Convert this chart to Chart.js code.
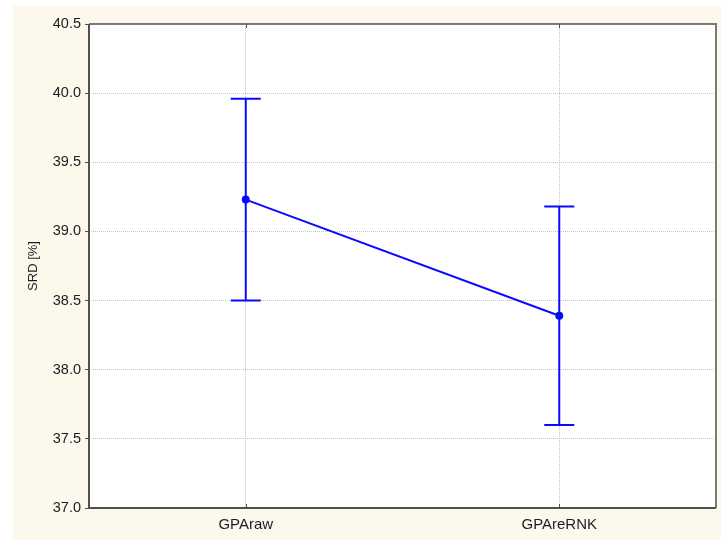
<!DOCTYPE html>
<html>
<head>
<meta charset="utf-8">
<script src="https://cdn.jsdelivr.net/npm/chart.js@4/dist/chart.umd.min.js"></script>
<style>
  html, body { margin: 0; padding: 0; background: #ffffff; }
  #wrap { width: 721px; height: 540px; position: relative; }
</style>
</head>
<body>
<div id="wrap"><canvas id="c" width="721" height="540"></canvas></div>
<script>
// Group labels and mean SRD with confidence limits
const categories = ['GPAraw', 'GPAreRNK'];
const means = [39.23, 38.39];
const lowerLimits = [38.50, 37.60];
const upperLimits = [39.96, 39.18];
const yTicks = [37.0, 37.5, 38.0, 38.5, 39.0, 39.5, 40.0, 40.5];

const BLUE = '#0a0aff';
const FONT = 'Liberation Sans, Arial, sans-serif';

// Cream page background and frame around the plotting area
const framePlugin = {
  id: 'frame',
  beforeDraw(chart) {
    const ctx = chart.ctx;
    ctx.save();
    ctx.fillStyle = '#fdf8ec';
    ctx.fillRect(13, 6, chart.width - 13, chart.height - 6);
    const a = chart.chartArea;
    ctx.fillStyle = '#ffffff';
    ctx.fillRect(a.left, a.top, a.right - a.left, a.bottom - a.top);
    ctx.restore();
  },
  afterDatasetsDraw(chart) {
    const ctx = chart.ctx;
    const a = chart.chartArea;
    const x = chart.scales.x;
    ctx.save();
    // top and right edges
    ctx.strokeStyle = '#7a7a7a';
    ctx.lineWidth = 2;
    ctx.beginPath();
    ctx.moveTo(a.left, a.top);
    ctx.lineTo(a.right, a.top);
    ctx.lineTo(a.right, a.bottom);
    ctx.stroke();
    // left and bottom axes
    ctx.strokeStyle = '#505050';
    ctx.beginPath();
    ctx.moveTo(a.left, a.top);
    ctx.lineTo(a.left, a.bottom);
    ctx.lineTo(a.right, a.bottom);
    ctx.stroke();
    // inner category ticks on bottom and top
    ctx.lineWidth = 1;
    ctx.strokeStyle = '#505050';
    categories.forEach((c, i) => {
      const px = Math.round(x.getPixelForValue(i)) + 0.5;
      ctx.beginPath();
      ctx.moveTo(px, a.bottom);
      ctx.lineTo(px, a.bottom - 4);
      ctx.moveTo(px, a.top);
      ctx.lineTo(px, a.top + 4);
      ctx.stroke();
    });
    ctx.restore();
  }
};

// Whiskers for the confidence limits
const errorBarPlugin = {
  id: 'errorBars',
  afterDatasetsDraw(chart) {
    const ctx = chart.ctx;
    const x = chart.scales.x;
    const y = chart.scales.y;
    ctx.save();
    ctx.strokeStyle = BLUE;
    ctx.lineWidth = 2;
    const half = 15;
    categories.forEach((c, i) => {
      const px = x.getPixelForValue(i);
      const yl = y.getPixelForValue(lowerLimits[i]);
      const yu = y.getPixelForValue(upperLimits[i]);
      ctx.beginPath();
      ctx.moveTo(px, yl);
      ctx.lineTo(px, yu);
      ctx.moveTo(px - half, yu);
      ctx.lineTo(px + half, yu);
      ctx.moveTo(px - half, yl);
      ctx.lineTo(px + half, yl);
      ctx.stroke();
    });
    ctx.restore();
  }
};

new Chart(document.getElementById('c'), {
  type: 'line',
  data: {
    labels: categories,
    datasets: [{
      data: means,
      borderColor: BLUE,
      backgroundColor: BLUE,
      borderWidth: 2,
      pointRadius: 3,
      pointHoverRadius: 3,
      tension: 0,
      fill: false
    }]
  },
  options: {
    responsive: false,
    animation: false,
    devicePixelRatio: 1,
    layout: { padding: { top: 24, right: 4, left: 26, bottom: 0 } },
    plugins: {
      legend: { display: false },
      tooltip: { enabled: false }
    },
    scales: {
      x: {
        type: 'category',
        offset: true,
        border: { display: false, dash: [1, 1] },
        grid: {
          offset: false,
          color: '#c4c4c4',
          lineWidth: 1,
          drawTicks: false
        },
        ticks: {
          color: '#1c1c24',
          padding: 8,
          font: { family: FONT, size: 15 }
        },
        afterFit(scale) { scale.height = 32; }
      },
      y: {
        min: 37.0,
        max: 40.5,
        border: { display: false, dash: [1, 1] },
        afterBuildTicks(scale) {
          scale.ticks = yTicks.map(v => ({ value: v }));
        },
        grid: {
          color: '#c4c4c4',
          lineWidth: 1,
          drawTicks: true,
          tickLength: 4,
          tickColor: '#505050',
          tickBorderDash: []
        },
        ticks: {
          color: '#1c1c24',
          padding: 4,
          font: { family: FONT, size: 14.5 },
          callback: v => Number(v).toFixed(1)
        },
        title: {
          display: true,
          text: 'SRD [%]',
          color: '#1c1c24',
          padding: { top: 0, bottom: 0 },
          font: { family: FONT, size: 13 }
        },
        afterFit(scale) { scale.width = 63; }
      }
    }
  },
  plugins: [framePlugin, errorBarPlugin]
});
</script>
</body>
</html>
